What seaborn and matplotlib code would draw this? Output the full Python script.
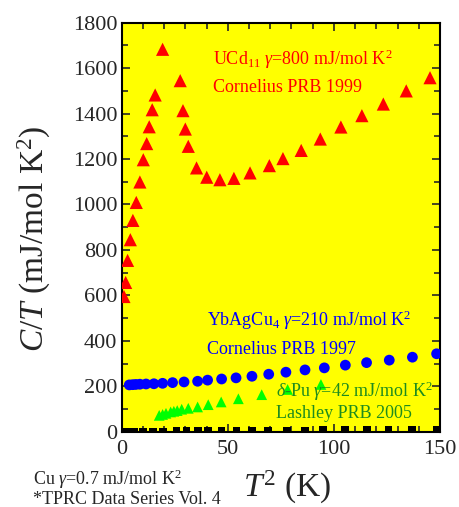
import matplotlib
matplotlib.use("Agg")
import matplotlib.pyplot as plt
from matplotlib.ticker import MultipleLocator
import seaborn as sns
import pandas as pd

# UCd11 (Cornelius PRB 1999)
ucd_t2 = [1.1, 1.9, 2.8, 4.1, 5.3, 6.9, 8.6, 10.2, 11.8, 13.0, 14.4, 15.8, 19.3,
          27.6, 28.9, 30.0, 31.4, 35.3, 40.1, 46.3, 52.9, 60.5, 69.6, 76.0, 84.6,
          93.6, 103.3, 113.2, 123.3, 134.1, 145.3]
ucd_ct = [595, 657, 754, 845, 930, 1009, 1099, 1197, 1268, 1342, 1417, 1482, 1683,
          1545, 1413, 1332, 1256, 1161, 1120, 1109, 1115, 1139, 1171, 1202, 1238,
          1288, 1341, 1391, 1442, 1500, 1558]

# YbAgCu4 (Cornelius PRB 1997)
yb_t2 = [3.6, 5.2, 6.7, 8.6, 11.5, 15.2, 19.3, 24.0, 29.4, 35.8, 40.5, 47.1, 53.9,
         61.4, 69.3, 77.4, 86.4, 95.5, 105.4, 115.4, 126.1, 137.0, 148.4]
yb_ct = [206, 207, 208, 209, 210, 211, 213, 216, 219, 222, 227, 232, 237,
         244, 253, 262, 272, 281, 293, 304, 315, 328, 343]

# delta-Pu (Lashley PRB 2005)
pu_t2 = [17.7, 19.3, 20.9, 23.1, 24.6, 26.2, 28.3, 31.4, 35.8, 40.8, 46.9, 55.0,
         66.0, 78.2, 93.9]
pu_ct = [72, 76, 81, 87, 90, 93, 99, 103, 109, 119, 131, 145, 163, 186, 208]

# Cu (TPRC Data Series Vol. 4)
cu_t2 = [1.2, 3.5, 6.0, 10.2, 14.9, 19.6, 25.9, 30.6, 36.1, 40.8, 47.1, 54.2, 61.3,
         69.1, 77.8, 86.4, 95.0, 105.3, 115.5, 125.7, 136.7, 148.5]
cu_ct = [0.8, 0.9, 1.0, 1.2, 1.4, 1.6, 1.9, 2.2, 2.5, 2.8, 3.2, 3.7, 4.1,
         4.6, 5.2, 5.8, 6.4, 7.1, 7.7, 8.4, 9.2, 10.0]

sns.set_style("ticks")
plt.rcParams["font.family"] = ["Liberation Serif", "DejaVu Serif"]
plt.rcParams["mathtext.fontset"] = "custom"
plt.rcParams["mathtext.rm"] = "Liberation Serif"
plt.rcParams["mathtext.it"] = "Liberation Serif:italic"

fig = plt.figure(figsize=(4.59, 5.07), dpi=100)
ax = fig.add_axes([0.265, 0.1485, 0.6936, 0.8067])
ax.set_facecolor("#FFFF00")

df_u = pd.DataFrame({"x": ucd_t2, "y": ucd_ct})
df_y = pd.DataFrame({"x": yb_t2, "y": yb_ct})
df_p = pd.DataFrame({"x": pu_t2, "y": pu_ct})
df_c = pd.DataFrame({"x": cu_t2, "y": cu_ct})

sns.scatterplot(data=df_c, x="x", y="y", ax=ax, marker="s", s=30, color="black",
                edgecolor="none", zorder=3)
sns.scatterplot(data=df_p, x="x", y="y", ax=ax, marker="^", s=60, color="#00FF00",
                edgecolor="none", zorder=3)
sns.scatterplot(data=df_y, x="x", y="y", ax=ax, marker="o", s=60, color="#0000FF",
                edgecolor="none", zorder=3)
sns.scatterplot(data=df_u, x="x", y="y", ax=ax, marker="^", s=90, color="#FF0000",
                edgecolor="none", zorder=3)

ax.set_xlim(0, 150)
ax.set_ylim(0, 1800)
ax.xaxis.set_major_locator(MultipleLocator(50))
ax.xaxis.set_minor_locator(MultipleLocator(10))
ax.yaxis.set_major_locator(MultipleLocator(200))
ax.yaxis.set_minor_locator(MultipleLocator(100))
ax.tick_params(which="both", direction="in", top=True, right=True, width=1.2,
               labelsize=16)
ax.tick_params(axis="x", pad=6)
ax.tick_params(axis="y", pad=3)
ax.tick_params(which="major", length=6)
ax.tick_params(which="minor", length=4)
for sp in ax.spines.values():
    sp.set_linewidth(1.5)
    sp.set_color("black")

ax.set_xlabel(r"$\mathit{T}^{2}$ (K)", fontsize=24)
ax.set_ylabel(r"$\mathit{C/T}$ (mJ/mol K$^{2}$)", fontsize=24)
ax.xaxis.set_label_coords(0.519, -0.09)
ax.yaxis.set_label_coords(-0.215, 0.472)

ax.text(43, 1640, r"UCd$_{11}$ $\gamma$=800 mJ/mol K$^{2}$", color="#FF0000",
        fontsize=13, va="center", ha="left")
ax.text(43, 1515, "Cornelius PRB 1999", color="#FF0000", fontsize=13,
        va="center", ha="left")
ax.text(40, 490, r"YbAgCu$_{4}$ $\gamma$=210 mJ/mol K$^{2}$", color="#0000FF",
        fontsize=13, va="center", ha="left")
ax.text(40, 360, "Cornelius PRB 1997", color="#0000FF", fontsize=13,
        va="center", ha="left")
ax.text(72.5, 180, r"$\delta$-Pu $\gamma$=42 mJ/mol K$^{2}$", color="#1E8C1E",
        fontsize=13, va="center", ha="left", zorder=4)
ax.text(72.5, 80, "Lashley PRB 2005", color="#1E8C1E", fontsize=13,
        va="center", ha="left", zorder=4)

fig.text(33 / 459, 1 - 479 / 507, r"Cu $\gamma$=0.7 mJ/mol K$^{2}$", fontsize=13,
         va="center", ha="left")
fig.text(33 / 459, 1 - 499 / 507, "*TPRC Data Series Vol. 4", fontsize=13,
         va="center", ha="left")

fig.savefig("out.png", dpi=100)
